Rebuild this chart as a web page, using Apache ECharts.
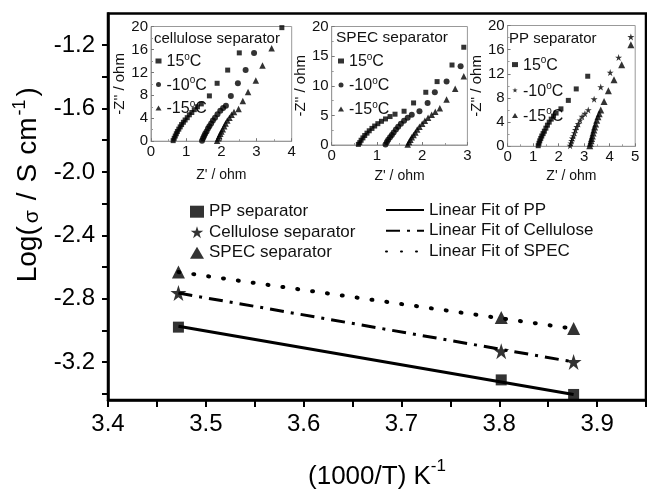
<!DOCTYPE html>
<html><head><meta charset="utf-8">
<script src="https://cdn.jsdelivr.net/npm/echarts@6/dist/echarts.min.js"></script>
<style>html,body{margin:0;padding:0;background:#fff}#c{width:647px;height:495px}</style>
</head><body><div id="c"></div>
<script>
const FONT = 'Liberation Sans, Arial, sans-serif';

// ---- main plot data ----
const invT = [3.472, 3.802, 3.876];
const ppLog = [-2.980, -3.313, -3.405];
const celLog = [-2.765, -3.132, -3.200];
const specLog = [-2.632, -2.919, -2.989];
const fitT = [3.472, 3.876];
const fitPP = [-2.975, -3.405];
const fitCel = [-2.765, -3.200];
const fitSpec = [-2.632, -2.990];
const yTickLabels = [-3.2, -2.8, -2.4, -2.0, -1.6, -1.2];
const yTicks = [-3.4, -3.2, -3.0, -2.8, -2.6, -2.4, -2.2, -2.0, -1.8, -1.6, -1.4, -1.2];
const xTickLabels = [3.4, 3.5, 3.6, 3.7, 3.8, 3.9];
const xTicks = [3.4, 3.45, 3.5, 3.55, 3.6, 3.65, 3.7, 3.75, 3.8, 3.85, 3.9, 3.95];

// ---- inset: cellulose separator (Z', -Z'') ----
const cel15 = [[0.63,0.1],[0.66,0.5],[0.69,0.9],[0.72,1.3],[0.75,1.7],[0.79,2.1],[0.83,2.5],[0.87,2.9],[0.92,3.3],[0.97,3.7],[1.03,4.1],[1.09,4.6],[1.16,5.0],[1.23,5.5],[1.32,6.0],[1.43,6.5],[1.66,7.9],[1.88,10.1],[2.18,12.4],[2.51,15.4],[3.72,19.8]];
const cel10 = [[1.45,0.1],[1.48,0.5],[1.51,0.9],[1.54,1.3],[1.58,1.7],[1.62,2.2],[1.66,2.6],[1.71,3.1],[1.76,3.6],[1.82,4.1],[1.89,4.7],[1.97,5.3],[2.05,5.8],[2.13,6.2],[2.27,7.9],[2.47,10.1],[2.69,12.4],[2.93,15.4]];
const celM15 = [[1.88,0.1],[1.91,0.5],[1.94,0.9],[1.97,1.3],[2.00,1.7],[2.04,2.1],[2.08,2.6],[2.12,3.1],[2.17,3.6],[2.23,4.1],[2.29,4.6],[2.36,5.1],[2.49,5.6],[2.61,7.0],[2.76,8.6],[2.98,10.6],[3.17,13.2],[3.43,16.2]];

// ---- inset: SPEC separator ----
const spec15 = [[0.59,0.1],[0.62,0.4],[0.65,0.8],[0.69,1.2],[0.73,1.6],[0.78,2.0],[0.83,2.4],[0.89,2.8],[0.95,3.2],[1.02,3.6],[1.10,4.0],[1.19,4.4],[1.29,4.8],[1.40,5.2],[1.60,5.7],[1.81,7.1],[2.08,8.9],[2.33,10.7],[2.66,13.5],[2.92,16.5]];
const spec10 = [[1.19,0.1],[1.22,0.5],[1.25,0.9],[1.29,1.3],[1.33,1.7],[1.37,2.1],[1.42,2.6],[1.47,3.1],[1.53,3.6],[1.60,4.1],[1.68,4.6],[1.77,5.1],[1.94,5.7],[2.12,7.1],[2.28,8.9],[2.54,10.7],[2.85,13.3]];
const specM15 = [[1.68,0.1],[1.71,0.5],[1.74,0.9],[1.77,1.3],[1.81,1.7],[1.85,2.1],[1.89,2.6],[1.94,3.1],[2.00,3.6],[2.06,4.1],[2.13,4.6],[2.21,5.1],[2.29,5.6],[2.39,6.2],[2.54,7.7],[2.73,9.5],[2.92,11.6]];

// ---- inset: PP separator ----
const pp15 = [[1.20,0.1],[1.23,0.5],[1.26,0.9],[1.30,1.3],[1.34,1.7],[1.39,2.1],[1.44,2.5],[1.50,3.0],[1.56,3.5],[1.63,4.0],[1.71,4.5],[1.80,5.0],[1.90,5.5],[2.09,6.2],[2.38,7.6],[2.69,9.5],[3.14,11.6]];
const pp10 = [[2.45,0.1],[2.48,0.5],[2.51,0.9],[2.54,1.3],[2.58,1.7],[2.62,2.2],[2.66,2.7],[2.71,3.2],[2.77,3.7],[2.84,4.3],[2.92,4.9],[3.03,5.4],[3.16,6.0],[3.39,7.8],[3.65,9.8],[4.02,12.2],[4.35,14.7],[4.83,18.1]];
const ppM15 = [[3.22,0.1],[3.24,0.5],[3.27,0.9],[3.29,1.3],[3.32,1.7],[3.35,2.2],[3.38,2.7],[3.41,3.2],[3.45,3.7],[3.49,4.3],[3.54,4.9],[3.59,5.4],[3.65,6.0],[3.78,7.4],[3.95,9.2],[4.17,11.0],[4.47,13.5],[4.83,16.8]];

const tempNames = {c15:'15|o|C', c10:'-10|o|C', cm15:'-15|o|C',
                   s15:'15|o|C', s10:'-10|o|C', sm15:'-15|o|C',
                   p15:'15|o|C', p10:'-10|o|C', pm15:'-15|o|C'};

const zip = (xs, ys) => xs.map((x, i) => [x, ys[i]]);
const STAR = 'path://M50,0 L61.8,35.5 L100,35.5 L69.1,57.5 L80.9,95 L50,72 L19.1,95 L30.9,57.5 L0,35.5 L38.2,35.5 Z';

const chart = echarts.init(document.getElementById('c'), null, {renderer: 'canvas'});

const insetGrids = [
  {left: 151, top: 26.5, width: 140.7, height: 114.7},
  {left: 331.7, top: 26.5, width: 135.7, height: 118.5},
  {left: 507.6, top: 25.5, width: 127.6, height: 120.8}
];
const insetX = [4, 3, 5];
const insetYInt = [4, 5, 4];
const insetYGap = [23, 20, 18];
const insetXGap = [27, 24, 23];

const grids = [{left: 108, right: 1, top: 13.5, bottom: 83, show: true, borderColor: '#000', borderWidth: 2.5, backgroundColor: 'transparent'}]
  .concat(insetGrids.map(g => Object.assign({show: true, borderColor: '#999', borderWidth: 1, backgroundColor: '#fff'}, g)));

const titleTok = (fs, extra) => Object.assign({fontSize: fs, fontFamily: FONT, color: '#000', lineHeight: 32, verticalAlign: 'bottom'}, extra || {});

const xAxes = [{
  type: 'value', gridIndex: 0, min: 3.4, max: 3.95,
  axisLine: {show: true, onZero: false, lineStyle: {color: '#000', width: 2.5}},
  axisTick: {show: true, inside: false, length: 7, lineStyle: {color: '#000', width: 2}, customValues: xTicks},
  axisLabel: {show: true, customValues: xTickLabels, color: '#000', fontSize: 24, fontFamily: FONT, margin: 12, formatter: v => v.toFixed(1)},
  splitLine: {show: false},
  name: '{a|(1000/T) K}{s|-1}', nameLocation: 'middle', nameGap: 58,
  nameTextStyle: {rich: {a: titleTok(26), s: titleTok(17, {verticalAlign: 'top'})}}
}];
const yAxes = [{
  type: 'value', gridIndex: 0, min: -3.44, max: -1.0,
  axisLine: {show: true, onZero: false, lineStyle: {color: '#000', width: 2.5}},
  axisTick: {show: true, inside: false, length: 6, lineStyle: {color: '#000', width: 2}, customValues: yTicks},
  axisLabel: {show: true, customValues: yTickLabels, color: '#000', fontSize: 24, fontFamily: FONT, margin: 13, formatter: v => v.toFixed(1)},
  splitLine: {show: false},
  name: '{a|Log(}{g|σ}{b|/}{c|S}{d|cm}{s|-1}{e|)}', nameLocation: 'middle', nameGap: 58,
  nameTextStyle: {
    padding: [0, 0, 0, 44],
    rich: {
      a: titleTok(28, {padding: [0, 3, 0, 0]}),
      g: titleTok(21, {padding: [0, 10, 0, 0]}),
      b: titleTok(28, {padding: [0, 10, 0, 0]}),
      c: titleTok(28, {padding: [0, 9, 0, 0]}),
      d: titleTok(28, {padding: [0, 2, 0, 0]}),
      s: titleTok(18, {verticalAlign: 'top', padding: [0, 3, 0, 0]}),
      e: titleTok(28)
    }
  }
}];

insetGrids.forEach((g, i) => {
  const gi = i + 1;
  xAxes.push({
    type: 'value', gridIndex: gi, min: 0, max: insetX[i], interval: 1,
    axisLine: {show: true, onZero: false, lineStyle: {color: '#999', width: 1}},
    axisTick: {show: true, inside: true, length: 3, lineStyle: {color: '#777'}},
    minorTick: {show: true, splitNumber: 2, length: 2, lineStyle: {color: '#999'}},
    axisLabel: {color: '#111', fontSize: 15, fontFamily: FONT, margin: 3},
    splitLine: {show: false},
    name: "Z' / ohm", nameLocation: 'middle', nameGap: insetXGap[i],
    nameTextStyle: {fontSize: 14, fontFamily: FONT, color: '#111'}
  });
  yAxes.push({
    type: 'value', gridIndex: gi, min: 0, max: 20, interval: insetYInt[i],
    axisLine: {show: true, onZero: false, lineStyle: {color: '#999', width: 1}},
    axisTick: {show: true, inside: true, length: 3, lineStyle: {color: '#777'}},
    minorTick: {show: true, splitNumber: 2, length: 2, lineStyle: {color: '#999'}},
    axisLabel: {color: '#111', fontSize: 15, fontFamily: FONT, margin: 3},
    splitLine: {show: false},
    name: "-Z'' / ohm", nameLocation: 'middle', nameGap: insetYGap[i],
    nameTextStyle: {fontSize: 15, fontFamily: FONT, color: '#111'}
  });
});

const black = {color: '#000'};
const inset = (name, data, gi, symbol, size) => ({
  name, type: 'scatter', xAxisIndex: gi, yAxisIndex: gi, data, symbol, symbolSize: size,
  itemStyle: black, silent: true, z: 5
});

const series = [
  {name: 'Linear Fit of PP', type: 'line', data: zip(fitT, fitPP), symbol: 'none', itemStyle: black, lineStyle: {color: '#000', width: 3, type: 'solid'}, silent: true, z: 2},
  {name: 'Linear Fit of Cellulose', type: 'line', data: zip(fitT, fitCel), symbol: 'none', itemStyle: black, lineStyle: {color: '#000', width: 3, type: [14, 7, 3, 7]}, silent: true, z: 2},
  {name: 'Linear Fit of SPEC', type: 'line', data: zip(fitT, fitSpec), symbol: 'none', itemStyle: black, lineStyle: {color: '#000', width: 4, type: [1, 14], cap: 'round'}, silent: true, z: 2},
  {name: 'PP separator', type: 'scatter', data: zip(invT, ppLog), symbol: 'rect', symbolSize: 11, itemStyle: black, silent: true, z: 3},
  {name: 'Cellulose separator', type: 'scatter', data: zip(invT, celLog), symbol: STAR, symbolSize: 16, itemStyle: black, silent: true, z: 3},
  {name: 'SPEC separator', type: 'scatter', data: zip(invT, specLog), symbol: 'triangle', symbolSize: 13, itemStyle: black, silent: true, z: 3},
  inset('c15', cel15, 1, 'rect', 5), inset('c10', cel10, 1, 'circle', 6), inset('cm15', celM15, 1, 'triangle', 6.5),
  inset('s15', spec15, 2, 'rect', 5), inset('s10', spec10, 2, 'circle', 6), inset('sm15', specM15, 2, 'triangle', 6.5),
  inset('p15', pp15, 3, 'rect', 5), inset('p10', pp10, 3, STAR, 7), inset('pm15', ppM15, 3, 'triangle', 7)
];

const richTemp = {
  n: {fontSize: 16, fontFamily: FONT, color: '#111', lineHeight: 18, verticalAlign: 'bottom'},
  s: {fontSize: 10, fontFamily: FONT, color: '#111', lineHeight: 18, verticalAlign: 'top'}
};
const tempFmt = name => { const p = tempNames[name].split('|'); return '{n|' + p[0] + '}{s|' + p[1] + '}{n|' + p[2] + '}'; };
const insetLegend = (names, left, top, gap, textGap) => ({
  data: names, orient: 'vertical', left, top, itemWidth: 6, itemHeight: 5, itemGap: gap, itemTextGap: textGap,
  selectedMode: false, padding: 0, formatter: tempFmt, textStyle: {rich: richTemp}
});

const option = {
  animation: false,
  backgroundColor: '#fff',
  textStyle: {fontFamily: FONT},
  title: [
    {text: 'cellulose separator', left: 154, top: 30, padding: 0, textStyle: {fontSize: 15, fontWeight: 'normal', fontFamily: FONT, color: '#111', lineHeight: 18}},
    {text: 'SPEC separator', left: 336, top: 28.5, padding: 0, textStyle: {fontSize: 15.5, fontWeight: 'normal', fontFamily: FONT, color: '#111', lineHeight: 18}},
    {text: 'PP separator', left: 509, top: 30, padding: 0, textStyle: {fontSize: 15, fontWeight: 'normal', fontFamily: FONT, color: '#111', lineHeight: 18}}
  ],
  grid: grids,
  xAxis: xAxes,
  yAxis: yAxes,
  legend: [
    {data: ['PP separator', 'Cellulose separator', 'SPEC separator'], orient: 'vertical', left: 190, top: 201.7,
     itemWidth: 14, itemHeight: 12, itemGap: 0.5, itemTextGap: 19, selectedMode: false, padding: 0,
     textStyle: {fontSize: 17, fontFamily: FONT, color: '#111', lineHeight: 20}},
    {data: ['Linear Fit of PP', 'Linear Fit of Cellulose', 'Linear Fit of SPEC'], orient: 'vertical', left: 385, top: 200,
     itemWidth: 38, itemHeight: 12, itemGap: 0.8, itemTextGap: 3, selectedMode: false, padding: 0,
     itemStyle: {color: 'rgba(0,0,0,0)', borderColor: 'rgba(0,0,0,0)', borderWidth: 0, opacity: 0},
     textStyle: {fontSize: 17, fontFamily: FONT, color: '#111', lineHeight: 20}},
    insetLegend(['c15', 'c10', 'cm15'], 155.5, 52, 5.5, 3),
    insetLegend(['s15', 's10', 'sm15'], 338, 52, 6, 7),
    insetLegend(['p15', 'p10', 'pm15'], 512, 55.6, 7.5, 2)
  ],
  series
};
chart.setOption(option);
</script>
</body></html>
